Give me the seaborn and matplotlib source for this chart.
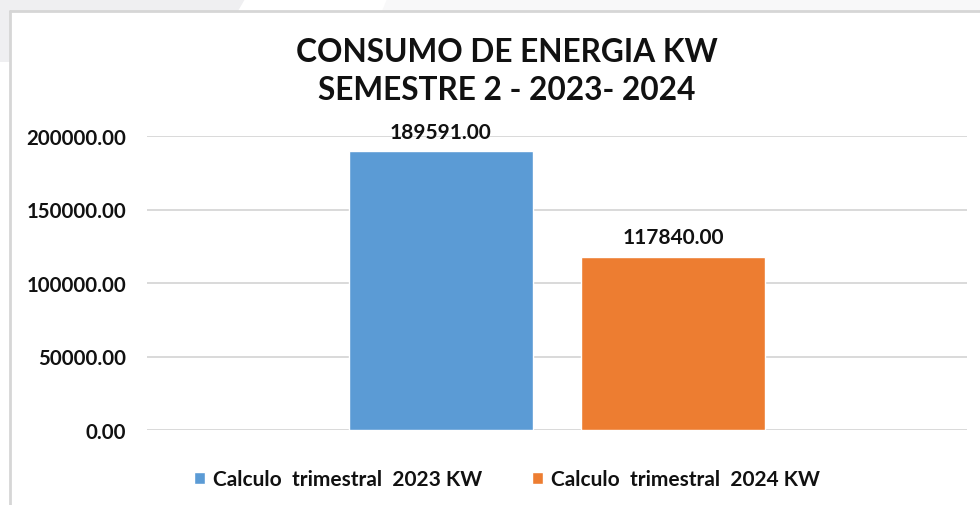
import matplotlib
matplotlib.use("Agg")
import matplotlib.pyplot as plt
import matplotlib.patches as mpatches
from matplotlib.ticker import FormatStrFormatter
import seaborn as sns
import pandas as pd

# data
series = ["Calculo  trimestral  2023 KW", "Calculo  trimestral  2024 KW"]
consumo = [189591.00, 117840.00]
colores = ["#5B9BD5", "#ED7D31"]
yticks = [0, 50000, 100000, 150000, 200000]

df = pd.DataFrame({"grupo": ["Semestre 2"] * 2, "serie": series, "kw": consumo})

sns.set_style("white")
plt.rcParams["font.family"] = ["Lato", "DejaVu Sans"]

W, H = 980, 506
fig = plt.figure(figsize=(9.8, 5.06), dpi=100)
fig.patch.set_facecolor("white")

# slide background behind the chart frame
def px(x, y):
    return (x / W, 1 - y / H)

fig.patches.append(mpatches.Polygon(
    [px(0, 0), px(245, 0), px(238, 12), px(10, 12), px(10, 63), px(0, 63)],
    closed=True, transform=fig.transFigure, facecolor="#EFEFF1",
    edgecolor="none", zorder=0))
fig.patches.append(mpatches.Polygon(
    [px(387, 0), px(W, 0), px(W, 12), px(382, 12)],
    closed=True, transform=fig.transFigure, facecolor="#F8F8F9",
    edgecolor="none", zorder=0))
# chart frame border
fig.lines.append(plt.Line2D([10 / W, 10 / W], [0, 1 - 12 / H],
                            transform=fig.transFigure, color="#D6D6D6", lw=2))
fig.lines.append(plt.Line2D([10 / W, 1], [1 - 12 / H, 1 - 12 / H],
                            transform=fig.transFigure, color="#D6D6D6", lw=2))

ax = fig.add_axes([147 / W, 1 - 431 / H, 820 / W, 294 / H])
ax.set_facecolor("none")

sns.barplot(data=df, x="grupo", y="kw", hue="serie", palette=colores,
            width=0.568, gap=0.21, saturation=1, ax=ax, zorder=3)

ax.set_xlim(-0.5, 0.5)
ax.set_ylim(0, 200000)
ax.set_yticks(yticks)
ax.yaxis.set_major_formatter(FormatStrFormatter("%.2f"))
ax.grid(axis="y", color="#D9D9D9", lw=1.4, zorder=0)
ax.set_xticks([])
ax.set_xlabel("")
ax.set_ylabel("")
for s in ax.spines.values():
    s.set_visible(False)
ax.tick_params(axis="y", length=0, pad=15)
for t in ax.get_yticklabels():
    t.set_fontsize(14.7)
    t.set_fontweight("bold")
    t.set_color("#111111")

for c in ax.containers:
    ax.bar_label(c, fmt="%.2f", padding=7, fontsize=15, fontweight="bold",
                 color="#111111", clip_on=False)

fig.text(507 / W, 1 - 52 / H, "CONSUMO DE ENERGIA KW", ha="center", va="center",
         fontsize=22.8, fontweight="bold", color="#111111")
fig.text(507 / W, 1 - 90 / H, "SEMESTRE 2 - 2023- 2024", ha="center", va="center",
         fontsize=22.8, fontweight="bold", color="#111111")

sns.move_legend(ax, "center", bbox_to_anchor=(507 / W, 1 - 480 / H),
                bbox_transform=fig.transFigure, ncol=2, frameon=False, title=None,
                fontsize=15, handlelength=0.5, handleheight=0.5,
                handletextpad=0.4, columnspacing=2.4)
for t in ax.get_legend().get_texts():
    t.set_fontweight("bold")
    t.set_color("#111111")

fig.savefig("out.png", dpi=100, facecolor=fig.get_facecolor())
